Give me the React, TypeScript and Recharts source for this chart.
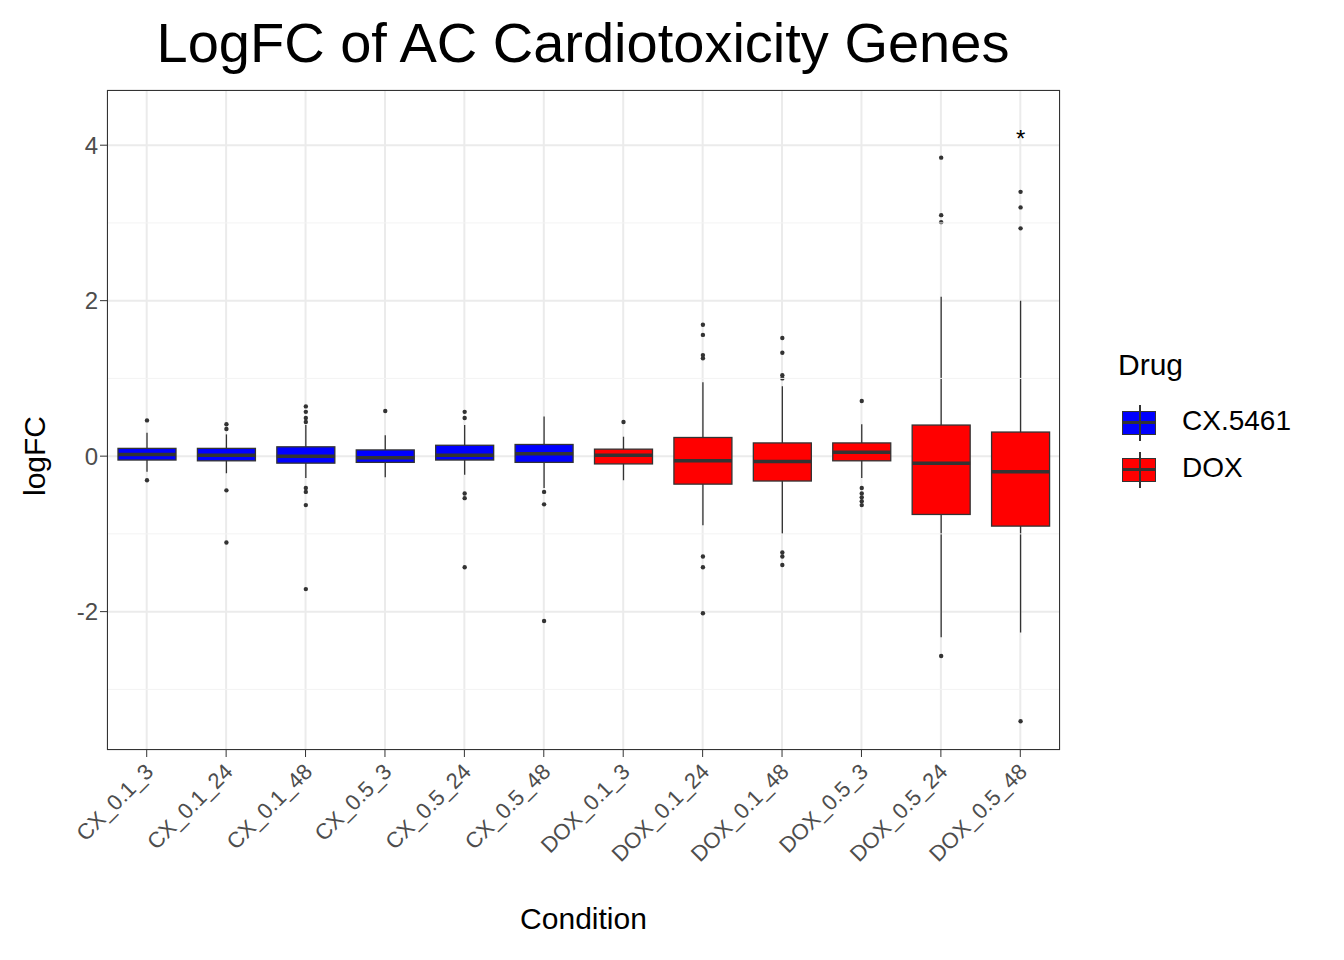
import React from "react";
import { ComposedChart, Bar, XAxis, YAxis, CartesianGrid, ReferenceLine } from "recharts";

const conditions = ["CX_0.1_3","CX_0.1_24","CX_0.1_48","CX_0.5_3","CX_0.5_24","CX_0.5_48","DOX_0.1_3","DOX_0.1_24","DOX_0.1_48","DOX_0.5_3","DOX_0.5_24","DOX_0.5_48"];
const drug = ["CX","CX","CX","CX","CX","CX","DOX","DOX","DOX","DOX","DOX","DOX"];
const lowWhisker = [-0.2,-0.22,-0.28,-0.27,-0.24,-0.41,-0.31,-0.89,-1.0,-0.28,-2.33,-2.27];
const q1 = [-0.05,-0.06,-0.09,-0.08,-0.05,-0.08,-0.1,-0.36,-0.32,-0.06,-0.75,-0.9];
const median = [0.02,0.01,0.0,-0.02,0.01,0.03,0.01,-0.06,-0.07,0.05,-0.09,-0.2];
const q3 = [0.1,0.1,0.12,0.08,0.14,0.15,0.09,0.24,0.17,0.17,0.4,0.31];
const highWhisker = [0.3,0.28,0.4,0.27,0.4,0.51,0.25,0.95,0.9,0.41,2.05,2.0];
const outliers = [
  [0.46,-0.31],
  [0.41,0.35,-0.44,-1.11],
  [0.64,0.57,0.49,0.44,-0.41,-0.46,-0.63,-1.71],
  [0.58],
  [0.57,0.49,-0.48,-0.54,-1.43],
  [-0.46,-0.62,-2.12],
  [0.44],
  [1.69,1.56,1.3,1.26,-1.29,-1.43,-2.02],
  [1.52,1.33,1.04,1.0,-1.24,-1.29,-1.4],
  [0.71,-0.41,-0.48,-0.53,-0.58,-0.63],
  [3.84,3.1,3.01,-2.57],
  [3.4,3.2,2.93,-3.41],
];
const marks = ["","","","","","","","","","","","*"];
const markValue = 4.1;
const yTicks = [-2,0,2,4];
const minorTicks = [-3,-1,1,3];
const colors: Record<string,string> = { CX: "#0000FF", DOX: "#FF0000" };

const data = conditions.map((c, i) => ({
  name: c, range: [lowWhisker[i], highWhisker[i]], lo: lowWhisker[i], hi: highWhisker[i],
  q1: q1[i], med: median[i], q3: q3[i], out: outliers[i], mark: marks[i], drug: drug[i],
}));

const BoxShape = (props: any) => {
  const { x, y, width, height, payload } = props;
  const p = payload;
  const k = height / (p.hi - p.lo);
  const Y = (v: number) => y + (p.hi - v) * k;
  const cx = x + width / 2;
  return (
    <g>
      <line x1={cx} x2={cx} y1={Y(p.hi)} y2={Y(p.lo)} stroke="#333" strokeWidth={1.3} />
      <rect x={x} y={Y(p.q3)} width={width} height={Y(p.q1) - Y(p.q3)} fill={colors[p.drug]} stroke="#333" strokeWidth={1.3} />
      <line x1={x} x2={x + width} y1={Y(p.med)} y2={Y(p.med)} stroke="#333" strokeWidth={3.5} />
      {p.out.map((v: number, j: number) => <circle key={j} cx={cx} cy={Y(v)} r={2.2} fill="#333" />)}
      {p.mark ? <text x={cx} y={Y(markValue)} dy={10} textAnchor="middle" fontSize={24} fontFamily="Liberation Sans, Arial" fill="#000">{p.mark}</text> : null}
    </g>
  );
};

const XTick = (props: any) => {
  const { x, y, payload } = props;
  return (
    <text x={x + 8} y={y + 14} transform={`rotate(-45 ${x + 8} ${y + 14})`} textAnchor="end" fontSize={22} fill="#4d4d4d" fontFamily="Liberation Sans, Arial">{payload.value}</text>
  );
};

export default function App() {
  const font = "Liberation Sans, Arial, sans-serif";
  return (
    <div style={{ position: "absolute", left: 0, top: 0, width: 1344, height: 960, background: "#fff", fontFamily: font }}>
      <div style={{ position: "absolute", top: 10, left: 0, width: 1166, textAlign: "center", fontSize: 56 }}>LogFC of AC Cardiotoxicity Genes</div>
      <ComposedChart width={1344} height={960} data={data} margin={{ top: 90, right: 284, bottom: 0, left: 0 }} barCategoryGap={0}>
        <CartesianGrid stroke="#ebebeb" strokeWidth={2} vertical horizontal />
        {minorTicks.map(t => <ReferenceLine key={t} y={t} stroke="#f3f3f3" strokeWidth={1} />)}
        <XAxis dataKey="name" interval={0} tick={<XTick />} tickLine={{ stroke: "#333" }} axisLine={false} tickSize={7} height={210} />
        <YAxis type="number" domain={[-3.78, 4.71]} ticks={yTicks} tick={{ fontSize: 24, fill: "#4d4d4d", fontFamily: font }} tickLine={{ stroke: "#333" }} axisLine={false} tickSize={7} width={107} allowDataOverflow />
        <Bar dataKey="range" barSize={58} shape={<BoxShape />} isAnimationActive={false} />
      </ComposedChart>
      <div style={{ position: "absolute", left: 107, top: 90, width: 953, height: 660, border: "1.5px solid #333", boxSizing: "border-box", pointerEvents: "none" }} />
      <div style={{ position: "absolute", left: 20, top: 456, fontSize: 30, transform: "translate(0,-50%) rotate(-90deg)", transformOrigin: "center", width: 30, display: "flex", justifyContent: "center", whiteSpace: "nowrap" }}>logFC</div>
      <div style={{ position: "absolute", left: 107, width: 953, top: 902, textAlign: "center", fontSize: 30 }}>Condition</div>
      <div style={{ position: "absolute", left: 1118, top: 348, fontSize: 30 }}>Drug</div>
      {[["CX.5461", colors.CX, 405], ["DOX", colors.DOX, 452]].map(([label, c, top]) => (
        <div key={label as string} style={{ position: "absolute", left: 1122, top: top as number }}>
          <div style={{ position: "absolute", left: 0, top: 6, width: 34, height: 24, background: c as string, border: "1.5px solid #333", boxSizing: "border-box" }} />
          <div style={{ position: "absolute", left: 0, top: 16, width: 34, height: 3, background: "#333" }} />
          <div style={{ position: "absolute", left: 17, top: 0, width: 1.5, height: 36, background: "#333" }} />
          <div style={{ position: "absolute", left: 60, top: 0, fontSize: 28, whiteSpace: "nowrap" }}>{label}</div>
        </div>
      ))}
    </div>
  );
}
